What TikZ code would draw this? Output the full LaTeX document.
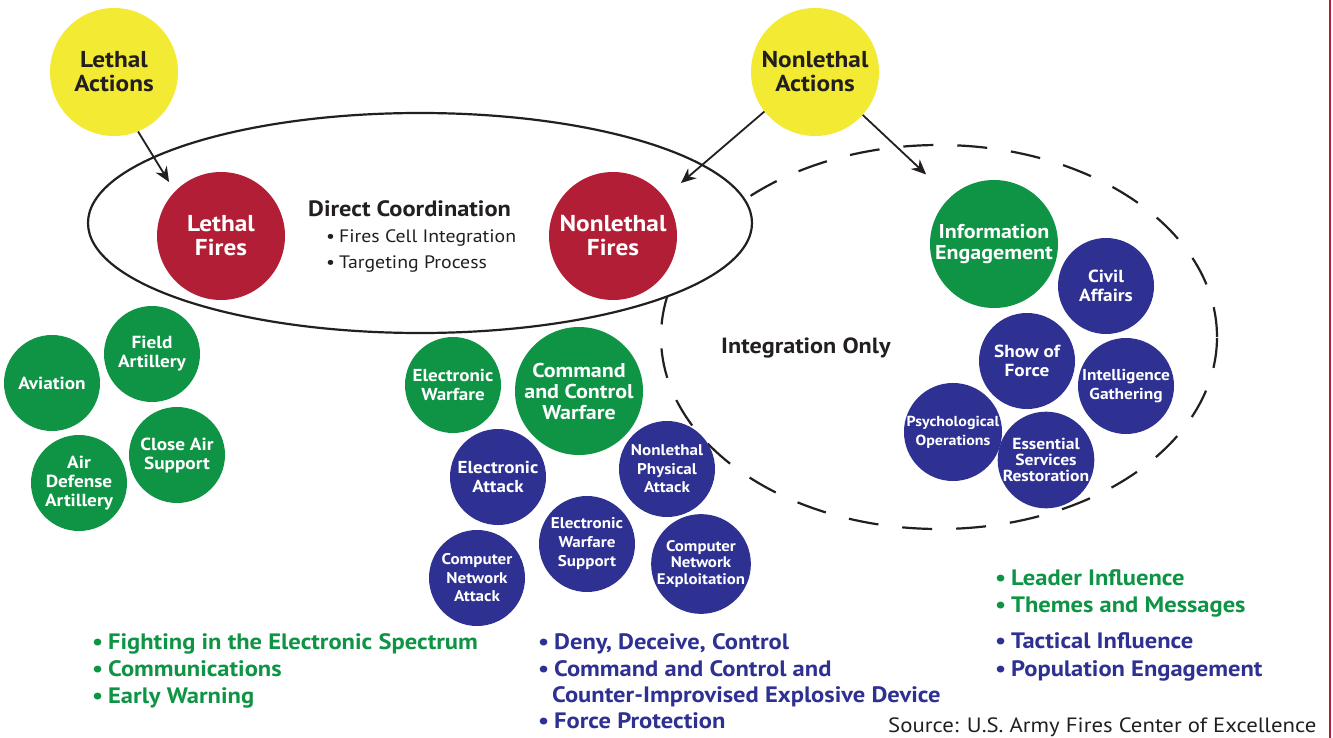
\documentclass[tikz,border=0pt]{standalone}
\usepackage{fontspec}
\setmainfont{PT Sans}[FakeStretch=1.1]
\usetikzlibrary{arrows.meta}
\definecolor{cyel}{HTML}{F2EA33}
\definecolor{cred}{HTML}{B11E35}
\definecolor{cgreen}{HTML}{0F9445}
\definecolor{cblue}{HTML}{2E3192}
\definecolor{ctext}{HTML}{231F20}
\newcommand{\bull}{•\hspace{0.22em}}
\tikzset{
  disc/.style={circle, inner sep=0pt, align=center, font=\bfseries\fontsize{17.5}{19}\selectfont, text=white},
  bigdisc/.style={disc, minimum size=128pt},
  smalldisc/.style={disc, minimum size=96pt},
  yel/.style={bigdisc, fill=cyel, text=ctext, font=\bfseries\fontsize{23}{24}\selectfont},
  redd/.style={bigdisc, fill=cred, font=\bfseries\fontsize{23}{24}\selectfont},
  gbig/.style={bigdisc, fill=cgreen, font=\bfseries\fontsize{20}{21}\selectfont},
  gs/.style={smalldisc, fill=cgreen},
  bs/.style={smalldisc, fill=cblue},
  arr/.style={-{Stealth[length=15pt,width=13pt]}, line width=1.8pt, draw=ctext},
  bul/.style={anchor=base west, inner sep=0pt, font=\bfseries\fontsize{22.3}{25}\selectfont},
  gb/.style={bul, text=cgreen},
  bb/.style={bul, text=cblue},
  lbl/.style={anchor=base west, inner sep=0pt, text=ctext}
}
\begin{document}
\begin{tikzpicture}[x=1pt,y=-1pt]
\useasboundingbox (0,0) rectangle (1333,738);
\fill[white] (0,0) rectangle (1333,738);
% red border line
\draw[cred, line width=2.5pt] (1330,0) -- (1330,738);
% dashed ellipse (integration only)
\draw[ctext, line width=2.2pt, dash pattern=on 30pt off 24pt] (939,337) ellipse [x radius=278pt, y radius=192pt];
% solid ellipse (direct coordination)
\draw[ctext, line width=2.2pt, fill=white] (420,223) ellipse [x radius=332pt, y radius=110pt];

% yellow action nodes
\node[yel] (LA) at (114,72) {Lethal\\Actions};
\node[yel] (NA) at (815,72) {Nonlethal\\Actions};
% red fires nodes
\node[redd] (LF) at (221,236) {Lethal\\Fires};
\node[redd] (NF) at (613,236) {Nonlethal\\Fires};

% direct coordination text
\node[lbl, font=\bfseries\fontsize{22.2}{24}\selectfont] (dc) at (308,217) {Direct Coordination};
\node[lbl, font=\fontsize{18}{22}\selectfont] (dc1) at (326,243) {\bull Fires Cell Integration};
\node[lbl, font=\fontsize{18}{22}\selectfont] (dc2) at (326,268) {\bull Targeting Process};
\node[lbl, font=\bfseries\fontsize{22}{24}\selectfont] (io) at (721,353) {Integration Only};

% lethal cluster
\node[gs] (av) at (52,383) {Aviation};
\node[gs] (fa) at (152,354) {Field\\Artillery};
\node[gs] (ada) at (79,483) {Air\\Defense\\Artillery};
\node[gs] (cas) at (177,455) {Close Air\\Support};

% nonlethal fires cluster
\node[gs, font=\bfseries\fontsize{17.3}{19}\selectfont] (ew) at (453,385) {Electronic\\Warfare};
\node[gbig] (c2w) at (579,391) {Command\\and Control\\Warfare};
\node[bs, font=\bfseries\fontsize{17.3}{19}\selectfont] (ea) at (498,477) {Electronic\\Attack};
\node[bs, font=\bfseries\fontsize{15.5}{18.5}\selectfont] (npa) at (667,469) {Nonlethal\\Physical\\Attack};
\node[bs, font=\bfseries\fontsize{15.5}{19}\selectfont] (ews) at (587,544) {Electronic\\Warfare\\Support};
\node[bs, font=\bfseries\fontsize{15.5}{18.5}\selectfont] (cna) at (477,578) {Computer\\Network\\Attack};
\node[bs, font=\bfseries\fontsize{15.3}{16.5}\selectfont] (cne) at (701,564) {Computer\\Network\\Exploitation};

% information engagement cluster
\node[gbig] (ie) at (994,244) {Information\\Engagement};
\node[bs, font=\bfseries\fontsize{17.5}{19}\selectfont] (ca) at (1106,286) {Civil\\Affairs};
\node[bs, font=\bfseries\fontsize{17.5}{19}\selectfont] (sof) at (1027,361) {Show of\\Force};
\node[bs, font=\bfseries\fontsize{15.8}{19}\selectfont] (ig) at (1126,386) {Intelligence\\Gathering};
\node[bs, font=\bfseries\fontsize{14.5}{19}\selectfont] (po) at (953,432) {Psychological\\Operations};
\node[bs, font=\bfseries\fontsize{16}{16}\selectfont] (esr) at (1046,460) {Essential\\Services\\Restoration};

% arrows
\draw[arr, shorten >=11pt] (LA.-68) -- (LF.136);
\draw[arr, shorten >=22pt] (NA.218) -- (NF.37);
\draw[arr, shorten >=33pt] (NA.-42) -- (ie.133);

% bullet lists
\node[gb] (g1) at (92,649) {\bull Fighting in the Electronic Spectrum};
\node[gb] (g2) at (92,676) {\bull Communications};
\node[gb] (g3) at (92,703) {\bull Early Warning};

\node[bb] (b1) at (538,649) {\bull Deny, Deceive, Control};
\node[bb] (b2) at (538,676) {\bull Command and Control and};
\node[bb] (b3) at (552,702) {Counter-Improvised Explosive Device};
\node[bb] (b4) at (538,728) {\bull Force Protection};

\node[gb] (r1) at (995,585) {\bull Leader Influence};
\node[gb] (r2) at (995,612) {\bull Themes and Messages};
\node[bb] (r3) at (995,648) {\bull Tactical Influence};
\node[bb] (r4) at (995,676) {\bull Population Engagement};

\node[lbl, font=\fontsize{20.7}{22}\selectfont] (src) at (888,732) {Source: U.S. Army Fires Center of Excellence};
\end{tikzpicture}
\end{document}
